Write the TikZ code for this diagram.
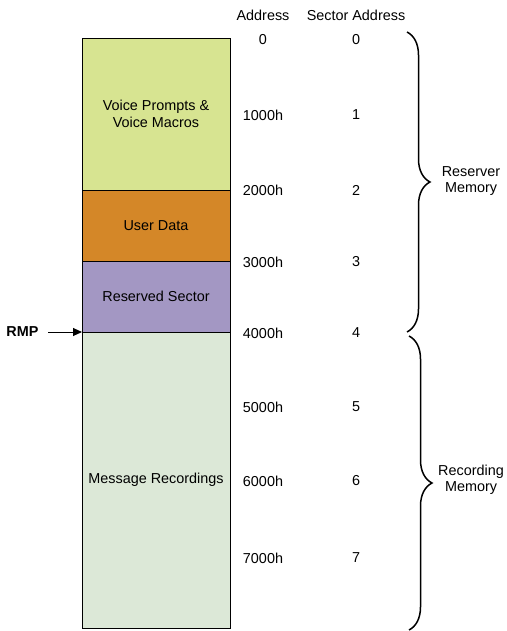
\documentclass[tikz,border=0pt]{standalone}
\usepackage{fontspec}
\setmainfont{Liberation Sans}
\usetikzlibrary{arrows.meta,decorations.pathreplacing}
\definecolor{prompts}{RGB}{215,228,145}
\definecolor{userdata}{RGB}{212,135,40}
\definecolor{reserved}{RGB}{163,151,195}
\definecolor{records}{RGB}{220,232,215}
\newcommand{\memfont}{\fontsize{14.4}{16.5}\selectfont}
\tikzset{
  region/.style={draw, line width=0.9pt, minimum width=148pt, inner sep=0pt,
    outer sep=0pt, align=center, anchor=north west, font=\memfont},
  addr/.style={font=\memfont},
  memspan/.style={decorate, decoration={brace, amplitude=23pt}, line width=1.5pt},
}

\begin{document}
\begin{tikzpicture}[x=1pt,y=-1pt]
\useasboundingbox (0,0) rectangle (506,631);
% memory blocks
\node[region, fill=prompts, minimum height=152pt] (vp) at (82,38) {Voice Prompts \&\\Voice Macros};
\node[region, fill=userdata, minimum height=71pt] (ud) at (vp.south west) {User Data};
\node[region, fill=reserved, minimum height=71pt] (rs) at (ud.south west) {Reserved Sector};
\node[region, fill=records, minimum height=296pt] (mr) at (rs.south west) {Message Recordings};
% column headings and addresses
\node[addr] (hdaddr) at (263,15) {Address};
\node[addr] (hdsect) at (356,15) {Sector Address};
\foreach \a/\s/\y in {0/0/40, 1000h/1/115, 2000h/2/190, 3000h/3/262,
                      4000h/4/333, 5000h/5/407, 6000h/6/481, 7000h/7/558}{
  \node[addr] (a\s) at (263,\y) {\a};
  \node[addr] (s\s) at (356,\y) {\s};
}
% pointer
\coordinate (rmpstart) at ([xshift=-34pt]mr.north west);
\node[font=\memfont\bfseries, anchor=east] (rmp) at ([xshift=-6pt]rmpstart) {RMP};
\draw[line width=0.9pt, -{Triangle[length=9pt,width=8pt]}] (rmpstart) -- (mr.north west);
% memory spans
\coordinate (rtop) at (407,32);
\coordinate (rbot) at (407,332);
\coordinate (mtop) at (409,336);
\coordinate (mbot) at (409,630);
\draw[memspan] (rtop) -- (rbot);
\draw[memspan] (mtop) -- (mbot);
\node[addr, align=center] (resv) at (471,181) {Reserver\\Memory};
\node[addr, align=center] (recm) at (471,480) {Recording\\Memory};
\end{tikzpicture}
\end{document}
